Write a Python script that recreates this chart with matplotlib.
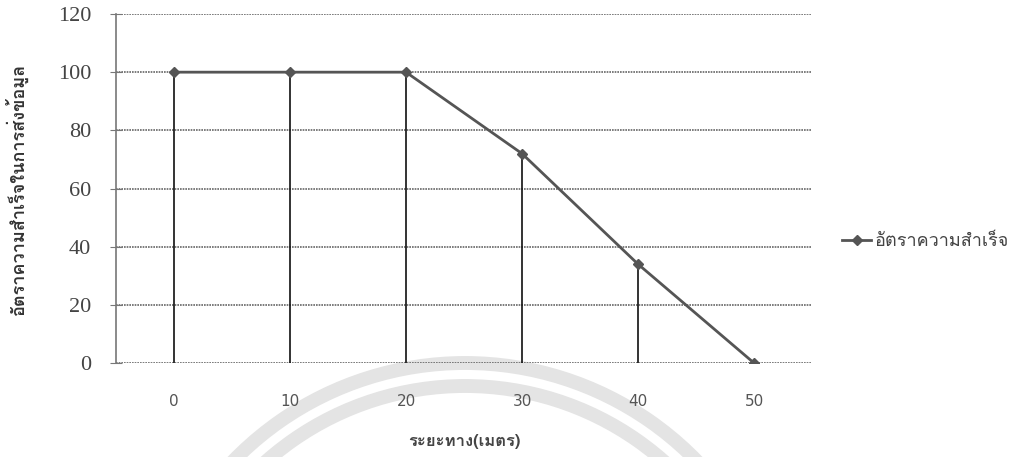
import matplotlib
matplotlib.use('Agg')
import matplotlib.pyplot as plt
from matplotlib import font_manager
from matplotlib.ft2font import FT2Font
from matplotlib.patches import Arc

# หาฟอนต์ที่มีอักษรไทย
thai_font = None
for f in font_manager.fontManager.ttflist:
    try:
        if 0x0E2D in FT2Font(f.fname).get_charmap():
            thai_font = f.name
            break
    except Exception:
        pass
fams = [thai_font, 'DejaVu Sans'] if thai_font else ['DejaVu Sans']

distance = ['0', '10', '20', '30', '40', '50']
success = [100, 100, 100, 72, 34, 0]
y_ticks = [0, 20, 40, 60, 80, 100, 120]

fig = plt.figure(figsize=(10.13, 4.57), dpi=100)
ax = fig.add_axes([116/1013, 1 - 363/457, (812 - 116)/1013, 349/457])
ax.set_zorder(2)
ax.patch.set_alpha(0)

x = list(range(len(distance)))
ax.set_xlim(-0.5, len(distance) - 0.5)
ax.set_ylim(0, 120)
ax.set_yticks(y_ticks)
ax.yaxis.grid(True, color='#666666', linewidth=1.2, linestyle=(0, (1, 0.6)))
ax.set_axisbelow(True)
for s in ['top', 'right', 'bottom']:
    ax.spines[s].set_visible(False)
ax.spines['left'].set_color('#777777')
ax.spines['left'].set_linewidth(1.2)

ax.vlines(x, 0, success, color='#111111', linewidth=1.2, zorder=2)
ax.plot(x, success, color='#555555', linewidth=2, marker='D', markersize=5,
        label='อัตราความสำเร็จ', zorder=3)

ax.set_xticks(x)
ax.set_xticklabels(distance)
ax.tick_params(axis='x', length=0, pad=22, labelsize=11, labelcolor='#555555')
ax.tick_params(axis='y', direction='inout', length=8, color='#777777',
               labelsize=16, labelcolor='#444444', pad=14)
for t in ax.get_yticklabels():
    t.set_family('Liberation Serif')

ax.set_ylabel('อัตราความสำเร็จในการส่งข้อมูล', family=fams, fontsize=13,
              fontweight='bold', color='#333333')
ax.yaxis.set_label_coords(-88/696, 0.5)
ax.set_xlabel('ระยะทาง(เมตร)', family=fams, fontsize=12,
              fontweight='bold', color='#444444')
ax.xaxis.set_label_coords(0.5, -71/349)

leg = ax.legend(loc='center left', bbox_to_anchor=(1.02, 0.35), frameon=False,
                prop={'family': fams, 'size': 13}, handlelength=1.6,
                handletextpad=0.2)
for t in leg.get_texts():
    t.set_color('#444444')

# ลายน้ำจาง ๆ ด้านล่าง
for r in [323, 300]:
    fig.patches.append(Arc((465, 457 - 686), 2 * r, 2 * r, theta1=20, theta2=160,
                           transform=None, color='#e4e4e4', linewidth=10, zorder=0))

fig.savefig('out.png', dpi=100)
